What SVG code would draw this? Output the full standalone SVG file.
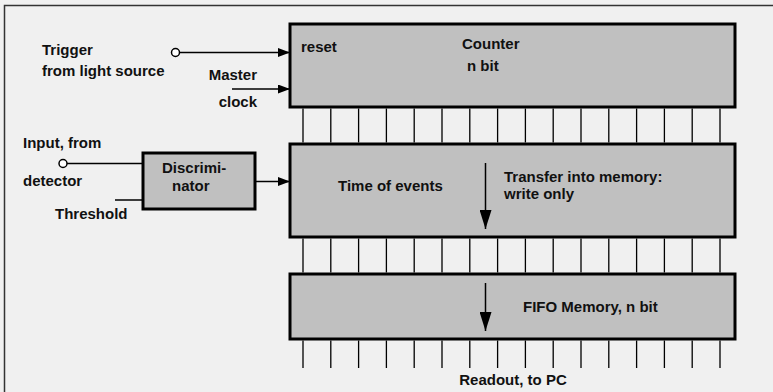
<svg xmlns="http://www.w3.org/2000/svg" width="773" height="392" viewBox="0 0 773 392">
  <defs>
    <marker id="arrow" viewBox="0 0 12 9" refX="12" refY="4.5" markerWidth="12" markerHeight="9" markerUnits="userSpaceOnUse" orient="auto">
      <path d="M0,0 L12,4.5 L0,9 Z" fill="#000"/>
    </marker>
    <marker id="bigarrow" viewBox="0 0 19 12" refX="19" refY="6" markerWidth="19" markerHeight="12" markerUnits="userSpaceOnUse" orient="auto">
      <path d="M0,0 L19,6 L0,12 Z" fill="#000"/>
    </marker>
  </defs>
  <style>
    text { font-family: "Liberation Sans", Arial, sans-serif; font-weight: bold; font-size: 15px; fill: #111; }
    .box { fill: #c0c0c0; stroke: #000; stroke-width: 3; }
    .wire { stroke: #000; stroke-width: 1.5; fill: none; }
    .bus { stroke: #000; stroke-width: 1.3; fill: none; }
    .term { fill: #fff; stroke: #000; stroke-width: 1.5; }
  </style>

  <!-- background and frame -->
  <rect x="0" y="0" width="773" height="392" fill="#f0f0f0"/>
  <path d="M4.5,392 L4.5,5.5 L773,5.5" fill="none" stroke="#333" stroke-width="1.5"/>

  <!-- counter -->
  <g id="counter">
    <rect class="box" x="290" y="24" width="445" height="83"/>
    <text x="301" y="52">reset</text>
    <text x="462" y="49">Counter</text>
    <text x="467" y="71">n bit</text>
  </g>

  <!-- event time register -->
  <g id="time-of-events">
    <rect class="box" x="290" y="144" width="445" height="93"/>
    <text x="338" y="191">Time of events</text>
    <text x="504" y="182">Transfer into memory:</text>
    <text x="504" y="199">write only</text>
  </g>

  <!-- FIFO -->
  <g id="fifo">
    <rect class="box" x="290" y="274" width="445" height="65"/>
    <text x="523" y="312">FIFO Memory, n bit</text>
  </g>

  <!-- discriminator -->
  <g id="discriminator">
    <rect class="box" x="143" y="153" width="112" height="56"/>
    <text x="162" y="173">Discrimi-</text>
    <text x="172" y="191">nator</text>
  </g>

  <!-- input labels -->
  <g id="trigger">
    <text x="42" y="55">Trigger</text>
    <text x="42" y="76">from light source</text>
  </g>
  <g id="master-clock">
    <text x="257" y="80" text-anchor="end">Master</text>
    <text x="257" y="107" text-anchor="end">clock</text>
  </g>
  <g id="input">
    <text x="23" y="148">Input, from</text>
    <text x="23" y="186">detector</text>
  </g>
  <g id="threshold">
    <text x="55" y="219">Threshold</text>
  </g>
  <g id="readout">
    <text x="513" y="385" text-anchor="middle">Readout, to PC</text>
  </g>

  <!-- connectors -->
  <g id="connectors">
    <line class="wire" x1="180" y1="52.5" x2="290" y2="52.5" marker-end="url(#arrow)"/>
    <line class="wire" x1="232" y1="89" x2="290" y2="89" marker-end="url(#arrow)"/>
    <line class="wire" x1="67" y1="163.5" x2="143" y2="163.5"/>
    <line class="wire" x1="115" y1="200" x2="143" y2="200"/>
    <line class="wire" x1="256" y1="181.5" x2="290" y2="181.5" marker-end="url(#arrow)"/>
    <line class="wire" x1="485.5" y1="163" x2="485.5" y2="229" marker-end="url(#bigarrow)"/>
    <line class="wire" x1="485.5" y1="283" x2="485.5" y2="331" marker-end="url(#bigarrow)"/>
    <circle class="term" cx="175.5" cy="52.5" r="4"/>
    <circle class="term" cx="63" cy="163.5" r="4"/>

    <!-- data buses -->
    <path class="bus" d="M303,108.5V142.5 M330.8,108.5V142.5 M358.6,108.5V142.5 M386.4,108.5V142.5 M414.2,108.5V142.5 M442,108.5V142.5 M469.8,108.5V142.5 M497.6,108.5V142.5 M525.4,108.5V142.5 M553.2,108.5V142.5 M581,108.5V142.5 M608.8,108.5V142.5 M636.6,108.5V142.5 M664.4,108.5V142.5 M692.2,108.5V142.5 M720,108.5V142.5"/>
    <path class="bus" d="M303,238.5V272.5 M330.8,238.5V272.5 M358.6,238.5V272.5 M386.4,238.5V272.5 M414.2,238.5V272.5 M442,238.5V272.5 M469.8,238.5V272.5 M497.6,238.5V272.5 M525.4,238.5V272.5 M553.2,238.5V272.5 M581,238.5V272.5 M608.8,238.5V272.5 M636.6,238.5V272.5 M664.4,238.5V272.5 M692.2,238.5V272.5 M720,238.5V272.5"/>
    <path class="bus" d="M303,340.5V368 M330.8,340.5V368 M358.6,340.5V368 M386.4,340.5V368 M414.2,340.5V368 M442,340.5V368 M469.8,340.5V368 M497.6,340.5V368 M525.4,340.5V368 M553.2,340.5V368 M581,340.5V368 M608.8,340.5V368 M636.6,340.5V368 M664.4,340.5V368 M692.2,340.5V368 M720,340.5V368"/>
  </g>
</svg>
